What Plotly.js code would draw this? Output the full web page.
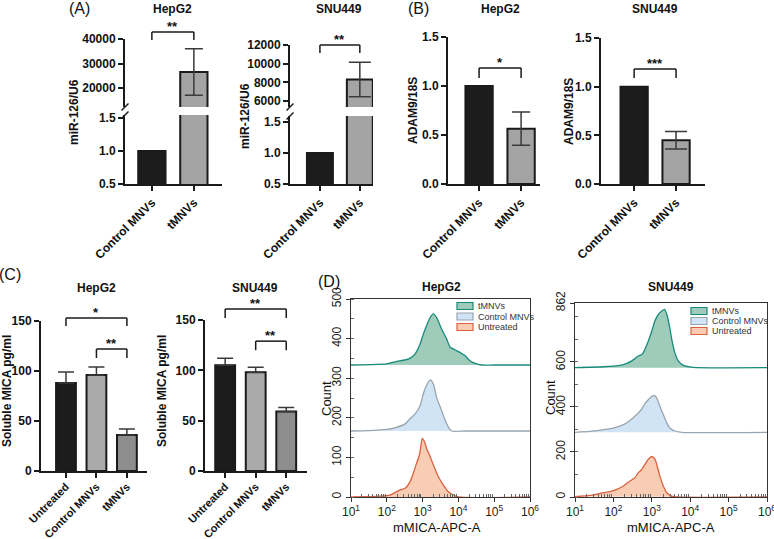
<!DOCTYPE html>
<html><head><meta charset="utf-8">
<script src="https://cdn.plot.ly/plotly-3.0.1.min.js"></script>
<style>html,body{margin:0;padding:0;background:#fff}</style>
</head><body><div id="chart" style="width:774px;height:539px"></div>
<script>
// ---------------- data ----------------
const catsAB = ['Control MNVs', 'tMNVs'];
const catsC = ['Untreated', 'Control MNVs', 'tMNVs'];

// (A) miR-126/U6
const mirHepG2 = [1.0, 26500];
const mirHepG2Err = [null, 9500];
const mirSNU449 = [1.0, 8300];
const mirSNU449Err = [null, 1850];

// (B) ADAM9/18S
const adamHepG2 = [1.0, 0.565];
const adamHepG2Err = [null, 0.17];
const adamSNU449 = [1.0, 0.45];
const adamSNU449Err = [null, 0.09];

// (C) Soluble MICA pg/ml
const micaHepG2 = [88, 96, 36];
const micaHepG2Err = [11, 8, 6];
const micaSNU449 = [105, 98, 59];
const micaSNU449Err = [7, 5, 4];

// (D) flow histograms: x = log10(mMICA-APC-A), y = count
const flowSeries = ['tMNVs', 'Control MNVs', 'Untreated'];
const hepTmnvLog   = [1.0, 1.5, 2.0, 2.23, 2.45, 2.60, 2.70, 2.79, 2.93, 3.02, 3.11, 3.21, 3.30, 3.39, 3.53, 3.67, 3.77, 3.91, 4.04, 4.18, 4.32, 4.51, 4.65, 5.0, 6.0];
const hepTmnvCount = [0, 1, 3, 8, 12, 15, 20, 28, 53, 78, 99, 120, 129, 120, 91, 66, 45, 38, 32, 24, 11, 3, 0, 0, 0];
const hepCtrlLog   = [1.0, 1.5, 2.0, 2.23, 2.51, 2.65, 2.79, 2.93, 3.02, 3.11, 3.21, 3.30, 3.39, 3.53, 3.63, 3.72, 3.81, 4.2, 6.0];
const hepCtrlCount = [0, 1, 4, 8, 18, 31, 43, 64, 94, 115, 129, 119, 85, 52, 27, 10, 0, 0, 0];
const hepUntrLog   = [1.0, 1.5, 1.81, 2.09, 2.37, 2.51, 2.65, 2.74, 2.83, 2.91, 2.95, 2.99, 3.05, 3.11, 3.21, 3.30, 3.44, 3.58, 3.72, 3.86, 4.0, 6.0];
const hepUntrCount = [0, 1, 2, 5, 18, 22, 39, 60, 85, 106, 127, 148, 140, 123, 102, 81, 51, 30, 13, 5, 0, 0];
const snuTmnvLog   = [1.0, 1.74, 2.17, 2.35, 2.48, 2.56, 2.65, 2.74, 2.82, 2.91, 3.00, 3.08, 3.17, 3.26, 3.33, 3.39, 3.46, 3.52, 3.60, 3.69, 3.82, 3.99, 4.17, 6.0];
const snuTmnvCount = [0, 4, 10, 19, 30, 40, 52, 59, 81, 118, 163, 207, 237, 252, 259, 237, 185, 126, 67, 30, 10, 3, 0, 0];
const snuCtrlLog   = [1.0, 1.39, 1.74, 2.0, 2.26, 2.43, 2.61, 2.74, 2.82, 2.91, 3.00, 3.07, 3.13, 3.21, 3.30, 3.39, 3.47, 3.60, 3.78, 6.0];
const snuCtrlCount = [0, 4, 12, 19, 34, 53, 79, 104, 128, 145, 160, 163, 152, 116, 79, 42, 19, 6, 0, 0];
const snuUntrLog   = [1.0, 1.39, 1.74, 1.91, 2.09, 2.26, 2.43, 2.56, 2.65, 2.74, 2.82, 2.91, 3.00, 3.08, 3.14, 3.21, 3.30, 3.39, 3.52, 3.65, 6.0];
const snuUntrCount = [2, 7, 19, 24, 34, 49, 71, 86, 108, 123, 145, 168, 180, 168, 138, 93, 49, 19, 4, 0, 0];
const hepOffsets = [333.3, 166.7, 0];
const snuOffsets = [574.7, 287.3, 0];

// ---------------- styling helpers ----------------
const W = 774, H = 539;
const FONT = 'Arial, "Liberation Sans", Helvetica, sans-serif';
const px2x = p => p / W;
const px2y = p => 1 - p / H;
const dx = (a, b) => [px2x(a), px2x(b)];
const dy = (top, bottom) => [px2y(bottom), px2y(top)];
const INK = '#1a1a1a';
const boldTick = {family: FONT, size: 12, color: '#111', weight: 'bold'};

function barY(domain, range, tickvals, fmt, anchor) {
  return {domain, range, tickmode: 'array', tickvals, tickformat: fmt, anchor,
    showline: true, linecolor: INK, linewidth: 2, ticks: 'outside', ticklen: 5, tickwidth: 2,
    tickcolor: INK, showgrid: false, zeroline: false, tickfont: boldTick, fixedrange: true};
}
function barX(domain, range, anchor, cats, fsize, standoff) {
  return {domain, range, anchor, type: 'category', categoryorder: 'array', categoryarray: cats,
    showline: true, linecolor: INK, linewidth: 2, ticks: 'outside', ticklen: 5, tickwidth: 2,
    tickcolor: INK, tickangle: -45, showgrid: false, zeroline: false,
    ticklabelstandoff: standoff || 0,
    tickfont: Object.assign({}, boldTick, {size: fsize || 12}), fixedrange: true};
}
const decades = [1, 2, 3, 4, 5, 6];
const minorVals = [];
decades.slice(0, 5).forEach(e => { for (let k = 2; k <= 9; k++) minorVals.push(k * Math.pow(10, e)); });
function flowX(domain, anchor) {
  return {domain, anchor, type: 'log', range: [1, 6], tickmode: 'array',
    tickvals: decades.map(e => Math.pow(10, e)), ticktext: decades.map(e => '10<sup>' + e + '</sup>'),
    ticklabeloverflow: 'allow',
    ticks: 'outside', ticklen: 4, tickwidth: 1, tickcolor: '#333', showline: true, mirror: true,
    linecolor: '#333', linewidth: 1, showgrid: false, zeroline: false,
    tickfont: {family: FONT, size: 12, color: '#222'},
    minor: {tickmode: 'array', tickvals: minorVals, ticks: 'inside', ticklen: 3, tickwidth: 1, tickcolor: '#666', showgrid: false}};
}
function flowY(domain, range, tickvals, anchor, minorStep) {
  return {domain, anchor, range, tickmode: 'array', tickvals, tickangle: -90,
    ticks: 'outside', ticklen: 4, tickwidth: 1, tickcolor: '#333', showline: true, mirror: true,
    linecolor: '#333', linewidth: 1, showgrid: false, zeroline: false,
    tickfont: {family: FONT, size: 12, color: '#222'},
    minor: {tickmode: 'linear', tick0: 0, dtick: minorStep, ticks: 'inside', ticklen: 3, tickwidth: 1, tickcolor: '#666', showgrid: false}};
}

const colAB = ['#1c1c1c', '#a4a4a4'];
const colC = ['#1c1c1c', '#aaaaaa', '#8d8d8d'];

function barTrace(cats, vals, errs, colors, xa, ya, upOnly, capW) {
  const err = errs.map(v => v === null ? NaN : v);
  const ey = {type: 'data', array: err, visible: true, color: '#3a3a3a', thickness: 1.5, width: capW};
  if (upOnly) { ey.symmetric = false; ey.arrayminus = err.map(() => 0); }
  return {type: 'bar', x: cats, y: vals, xaxis: xa, yaxis: ya, width: 0.65,
    marker: {color: colors, line: {color: INK, width: 2}}, error_y: ey,
    showlegend: false, hoverinfo: 'skip'};
}

const flowLine = ['#17897a', '#98a4ae', '#d9623e'];
const flowFill = ['#9fcbbb', '#d0e4f5', '#f8cdb3'];
function histTrace(logs, counts, offset, i, xa, ya) {
  return {type: 'scatter', mode: 'lines', x: logs.map(v => Math.pow(10, v)),
    y: counts.map(c => c + offset), xaxis: xa, yaxis: ya, fill: 'toself',
    fillcolor: flowFill[i], line: {color: flowLine[i], width: 1.3, shape: 'spline', smoothing: 0.6},
    name: flowSeries[i], showlegend: false, hoverinfo: 'skip'};
}

const data = [
  barTrace(catsAB, mirHepG2, mirHepG2Err, colAB, 'x', 'y', false, 9),
  barTrace(catsAB, mirHepG2, mirHepG2Err, colAB, 'x', 'y2', false, 9),
  barTrace(catsAB, mirSNU449, mirSNU449Err, colAB, 'x2', 'y3', false, 11),
  barTrace(catsAB, mirSNU449, mirSNU449Err, colAB, 'x2', 'y4', false, 11),
  barTrace(catsAB, adamHepG2, adamHepG2Err, colAB, 'x3', 'y5', false, 9),
  barTrace(catsAB, adamSNU449, adamSNU449Err, colAB, 'x4', 'y6', false, 11),
  barTrace(catsC, micaHepG2, micaHepG2Err, colC, 'x5', 'y7', true, 8),
  barTrace(catsC, micaSNU449, micaSNU449Err, colC, 'x6', 'y8', true, 8),
  histTrace(hepUntrLog, hepUntrCount, hepOffsets[2], 2, 'x7', 'y9'),
  histTrace(hepCtrlLog, hepCtrlCount, hepOffsets[1], 1, 'x7', 'y9'),
  histTrace(hepTmnvLog, hepTmnvCount, hepOffsets[0], 0, 'x7', 'y9'),
  histTrace(snuUntrLog, snuUntrCount, snuOffsets[2], 2, 'x8', 'y10'),
  histTrace(snuCtrlLog, snuCtrlCount, snuOffsets[1], 1, 'x8', 'y10'),
  histTrace(snuTmnvLog, snuTmnvCount, snuOffsets[0], 0, 'x8', 'y10'),
];

const layout = {
  width: W, height: H, margin: {l: 0, r: 0, t: 0, b: 0},
  paper_bgcolor: '#ffffff', plot_bgcolor: 'rgba(0,0,0,0)', showlegend: false, barmode: 'overlay',
  font: {family: FONT, color: '#111'},
  xaxis: barX(dx(125, 222), [-0.64, 1.67], 'y', catsAB),
  yaxis: barY(dy(115, 184), [0.5, 1.545], [0.5, 1.0, 1.5], '.1f', 'x'),
  yaxis2: barY(dy(39, 107), [12245, 40000], [20000, 30000, 40000], 'd', 'x'),
  xaxis2: barX(dx(290, 373), [-0.75, 1.33], 'y3', catsAB),
  yaxis3: barY(dy(116, 184), [0.5, 1.6], [0.5, 1.0, 1.5], '.1f', 'x2'),
  yaxis4: barY(dy(45, 107), [5357, 12000], [6000, 8000, 10000, 12000], 'd', 'x2'),
  xaxis3: barX(dx(448, 540), [-0.74, 1.45], 'y5', catsAB),
  yaxis5: barY(dy(37, 184), [0, 1.5], [0, 0.5, 1.0, 1.5], '.1f', 'x3'),
  xaxis4: barX(dx(601, 705), [-0.79, 1.69], 'y6', catsAB),
  yaxis6: barY(dy(38, 184), [0, 1.5], [0, 0.5, 1.0, 1.5], '.1f', 'x4'),
  xaxis5: barX(dx(41, 147), [-0.82, 2.66], 'y7', catsC, 11, -2),
  yaxis7: barY(dy(321, 471), [0, 150], [0, 50, 100, 150], 'd', 'x5'),
  xaxis6: barX(dx(205, 307), [-0.66, 2.68], 'y8', catsC, 11, -2),
  yaxis8: barY(dy(320, 471), [0, 150], [0, 50, 100, 150], 'd', 'x6'),
  xaxis7: flowX(dx(351, 530), 'y9'),
  yaxis9: flowY(dy(299, 497), [0, 500], [0, 100, 200, 300, 400, 500], 'x7', 50),
  xaxis8: flowX(dx(575, 767), 'y10'),
  yaxis10: flowY(dy(303, 497), [0, 862], [0, 200, 400, 600, 862], 'x8', 100),
  shapes: [], annotations: []
};

// significance brackets (levels in data units of the given y axis)
const brackets = [
  {xa: 'xaxis', ya: 'yaxis2', from: 0, to: 1, top: 42860, bottom: 39590, label: '**'},
  {xa: 'xaxis2', ya: 'yaxis4', from: 0, to: 1, top: 12000, bottom: 11140, label: '**'},
  {xa: 'xaxis3', ya: 'yaxis5', from: 0, to: 1, top: 1.184, bottom: 1.082, label: '*'},
  {xa: 'xaxis4', ya: 'yaxis6', from: 0, to: 1, top: 1.181, bottom: 1.089, label: '***'},
  {xa: 'xaxis5', ya: 'yaxis7', from: 0, to: 2, top: 153, bottom: 145, label: '*'},
  {xa: 'xaxis5', ya: 'yaxis7', from: 1, to: 2, top: 122, bottom: 113, label: '**'},
  {xa: 'xaxis6', ya: 'yaxis8', from: 0, to: 2, top: 161, bottom: 152, label: '**'},
  {xa: 'xaxis6', ya: 'yaxis8', from: 1, to: 2, top: 129, bottom: 120, label: '**'},
];
const refId = key => key.replace('axis', '');
brackets.forEach(b => {
  const xr = layout[b.xa].range, yr = layout[b.ya].range;
  const fx = v => (v - xr[0]) / (xr[1] - xr[0]);
  const fy = v => (v - yr[0]) / (yr[1] - yr[0]);
  const xref = refId(b.xa) + ' domain', yref = refId(b.ya) + ' domain';
  const x0 = fx(b.from), x1 = fx(b.to), yt = fy(b.top), yb = fy(b.bottom);
  const ln = {color: INK, width: 1.5};
  layout.shapes.push({type: 'line', xref, yref, x0, x1: x0, y0: yb, y1: yt, line: ln});
  layout.shapes.push({type: 'line', xref, yref, x0, x1, y0: yt, y1: yt, line: ln});
  layout.shapes.push({type: 'line', xref, yref, x0: x1, x1, y0: yb, y1: yt, line: ln});
  layout.annotations.push({xref, yref, x: (x0 + x1) / 2, y: yt, yanchor: 'bottom', xanchor: 'center',
    yshift: -4, showarrow: false, text: b.label, font: {family: FONT, size: 13, color: '#111', weight: 'bold'}});
});

// axis break marks for the split axes in (A)
[['xaxis', 'yaxis', 'yaxis2'], ['xaxis2', 'yaxis3', 'yaxis4']].forEach(([xa, lo, hi]) => {
  const xp = layout[xa].domain[0] * W;
  [layout[lo].domain[1], layout[hi].domain[0]].forEach(f => {
    const yp = (1 - f) * H;
    layout.shapes.push({type: 'line', xref: 'paper', yref: 'paper',
      x0: px2x(xp - 3.5), x1: px2x(xp + 3.5), y0: px2y(yp + 3.5), y1: px2y(yp - 3.5),
      line: {color: INK, width: 1.5}});
  });
});

// text labels
function txt(text, xp, yp, size, bold, angle) {
  layout.annotations.push({xref: 'paper', yref: 'paper', x: px2x(xp), y: px2y(yp),
    xanchor: 'center', yanchor: 'middle', showarrow: false, text, textangle: angle || 0,
    font: {family: FONT, size, color: '#111', weight: bold ? 'bold' : 'normal'}});
}
txt('(A)', 79, 9, 16, false); txt('(B)', 418, 9, 16, false);
txt('(C)', 10, 274, 16, false); txt('(D)', 329, 281, 16, false);
txt('HepG2', 172, 9, 12, true); txt('SNU449', 339, 9, 12, true);
txt('HepG2', 500, 9, 12, true); txt('SNU449', 655, 9, 12, true);
txt('HepG2', 96, 288, 12, true); txt('SNU449', 255, 288, 12, true);
txt('HepG2', 441, 287, 12, true); txt('SNU449', 671, 287, 12, true);
txt('miR-126/U6', 74, 112, 12, true, -90); txt('miR-126/U6', 245, 116, 12, true, -90);
txt('ADAM9/18S', 413, 111, 12, true, -90); txt('ADAM9/18S', 569, 112, 12, true, -90);
txt('Soluble MICA pg/ml', 7, 391, 12, true, -90); txt('Soluble MICA pg/ml', 162, 391, 12, true, -90);
txt('Count', 326, 399, 13, false, -90); txt('Count', 550, 398, 13, false, -90);
txt('mMICA-APC-A', 437, 527, 13, false); txt('mMICA-APC-A', 671, 527, 13, false);

// legends for (D)
[[457, [306, 316.5, 327]], [691, [311, 321, 331]]].forEach(([x0, rows]) => {
  flowSeries.forEach((name, i) => {
    layout.shapes.push({type: 'rect', xref: 'paper', yref: 'paper',
      x0: px2x(x0), x1: px2x(x0 + 16), y0: px2y(rows[i] + 3.5), y1: px2y(rows[i] - 3.5),
      fillcolor: flowFill[i], line: {color: flowLine[i], width: 1.2}});
    layout.annotations.push({xref: 'paper', yref: 'paper', x: px2x(x0 + 19), y: px2y(rows[i]),
      xanchor: 'left', yanchor: 'middle', showarrow: false, text: name,
      font: {family: FONT, size: 9, color: '#333'}});
  });
});

Plotly.newPlot('chart', data, layout, {staticPlot: true, displayModeBar: false});
</script>
</body></html>
